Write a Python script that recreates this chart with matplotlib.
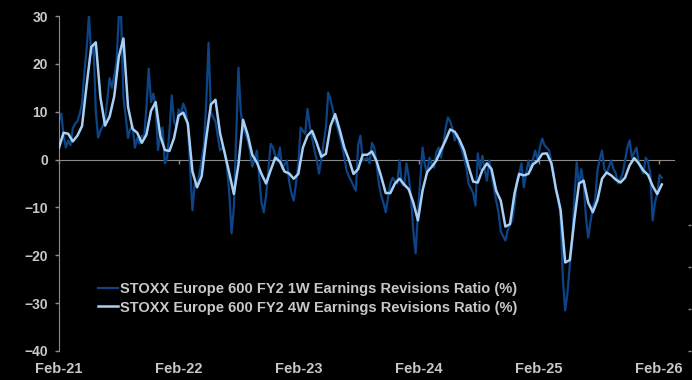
import numpy as np
import pandas as pd
import matplotlib
matplotlib.use("Agg")
import matplotlib.pyplot as plt
import matplotlib.dates as mdates

# ===== data =====
start = "2021-02-01"

# 1W ratio, weekly
ratio_1w = [
    8, 9.6, 5, 2.5, 4, 3, 6.5, 7.5, 8, 9.5,
    11.7, 18, 23, 30, 22, 24, 10, 4.6, 6, 7,
    8.1, 12.5, 17, 15, 17.5, 20.5, 30, 30, 13, 9,
    4.5, 6.5, 7, 2.5, 4.5, 3.3, 5, 4.6, 11, 19,
    12, 13.8, 11, 2, 5, 6.7, -0.8, 0.4, 6, 13.4,
    8, 6.7, 10.5, 9.5, 11.7, 10.5, 7, -2, -10.6, -5,
    -5.8, -3, -0.2, 3, 12, 24.4, 10, 8.8, 8, 5,
    1.9, 2.5, 1.9, -1.5, -7, -15.4, -10, 5, 19.2, 10,
    6.7, 5.5, 4, 1.9, -1.5, 0, 1.9, -3.5, -9, -11,
    -7.5, -2, 3.3, 2.5, 0.8, -0.2, 2.5, -2, -1, -0.2,
    -4.5, -7, -8.6, -5, -1, 6.7, 6, 5.4, 10.6, 7,
    4.6, 2, 0, -2.9, 0, 3.5, 6.7, 14, 12.5, 10.5,
    8.1, 6.7, 5, 3, 0.5, -2.3, -3.5, -4.5, -5.5, -6.5,
    3, 5, -0.2, 0, 0.4, -0.8, 3.5, 2.5, -0.8, -5,
    -7.5, -9, -11, -8, -5, -3.8, -4.5, -5, -0.2, -5,
    -5.5, -0.8, -3.5, -8, -15, -19.6, -11, -4.4, 2.5, -1,
    -2.9, 0.4, -1, -1.7, 1.5, 2.5, 0.4, 3, 6.5, 8.8,
    8, 6.5, 4, 5.4, 3.3, 2.2, 0.4, -1.7, -5, -6,
    -7, -9.6, 1.3, -2, 0.8, -2, -4.4, -0.2, -3, -5.8,
    -8.6, -11, -15, -16, -16.9, -14.8, -13.5, -12.7, -9.5, -4.5,
    -2.9, -0.8, -5.8, -3, -0.2, -2.3, 0, 1.9, -0.2, 2.5,
    4.4, 3, 2.5, 1.9, -0.5, -3, -6.5, -8, -12, -25,
    -31.5, -27.8, -22, -17, -8, -0.6, -5.8, -2, -5, -12,
    -16.3, -13, -10, -8.6, -2.3, 0, 1.9, -2, -2.9, -1.5,
    -0.2, -2, -2.9, -5, -4, -2.9, -0.2, 2.5, 4, 0.4,
    1.5, 2.5, -1, -2, -2.9, 0.4, -0.5, -3, -12.7, -9,
    -7.1, -3.2, -3.8,
]

# 4W ratio, every two weeks
ratio_4w = [
    2.5, 5.6, 5.4, 3.8, 5.0, 7.0, 15.5, 23.5, 24.5, 13,
    7.1, 9, 13.2, 21.5, 25.3, 11, 6.4, 5.6, 3.5, 5.2,
    10.2, 12, 5, 2, 1.8, 4.5, 9.2, 9.8, 7.5, -2.5,
    -5.8, -3.5, 4.5, 11.5, 12.5, 5.5, 1.4, -2.8, -7.2, -1,
    8.3, 5.2, 1.0, -0.6, -3, -5, -2.2, 0.4, -0.4, -2.5,
    -2.9, -4, -3, 2.5, 5, 6, 3.5, 0.6, 1.2, 7,
    9.5, 6.2, 2.5, 0, -3, -2, 1, 1, 1.7, -0.3,
    -3.5, -7, -7, -5, -4, -5.2, -6.2, -9, -12.7, -6.5,
    -2.6, -1.5, -0.2, 2, 4, 6.3, 5.8, 4.2, 2, -1.5,
    -4.6, -4.8, -2.2, -0.8, -2, -6.5, -8.6, -14, -13.5, -7,
    -3, -3.3, -3, -1, -0.3, 1.2, 1.3, -0.8, -6.2, -10.5,
    -21.5, -21, -12.5, -5, -4.4, -9, -11, -8.5, -4, -2.7,
    -3.3, -4.2, -4.8, -3.8, -1.2, 0.3, -0.8, -2.3, -3.2, -5.5,
    -7.2, -5.2,
]

dates_1w = pd.date_range(start, periods=len(ratio_1w), freq="7D")
dates_4w = pd.date_range(start, periods=len(ratio_4w), freq="14D")

label_1w = "STOXX Europe 600 FY2 1W Earnings Revisions Ratio (%)"
label_4w = "STOXX Europe 600 FY2 4W Earnings Revisions Ratio (%)"
year_ticks = pd.date_range("2021-02-01", "2026-02-01", freq="12MS")

# ===== styling =====
dark_blue = "#0d4486"
light_blue = "#a8d0f5"
grey = "#8a8a8a"
txt = "#c8c8c8"
plt.rcParams['font.family'] = ['Liberation Sans', 'DejaVu Sans']
plt.rcParams['font.weight'] = 'bold'

fig = plt.figure(figsize=(6.92, 3.80), dpi=100, facecolor="black")
ax = fig.add_axes([59 / 692, 29 / 380, 615 / 692, 335 / 380], facecolor="black")

ax.plot(dates_1w, ratio_1w, color=dark_blue, lw=1.6, label=label_1w, zorder=2)
ax.plot(dates_4w, ratio_4w, color=light_blue, lw=1.8, label=label_4w, zorder=3)

ax.set_ylim(-40, 30)
ax.set_xlim(pd.Timestamp("2021-02-01"), pd.Timestamp("2026-03-18"))
ax.set_yticks(np.arange(-40, 31, 10))
ax.set_xticks(year_ticks)
ax.xaxis.set_major_formatter(mdates.DateFormatter("%b-%y"))

for s in ["top", "right", "bottom"]:
    ax.spines[s].set_visible(False)
ax.spines["left"].set_color(grey)
ax.tick_params(axis="y", colors=grey, labelcolor=txt, labelsize=10, length=3, width=1, pad=5)
ax.tick_params(axis="x", length=0, labelcolor=txt, labelsize=10.5, pad=8)

# zero line with small year ticks
zero = ax.secondary_xaxis(4 / 7)
zero.set_xticks(year_ticks)
zero.set_xticklabels([])
zero.tick_params(axis="x", direction="in", length=3, color=grey, width=1)
for s in zero.spines.values():
    s.set_color(grey)
zero.set_zorder(0)

leg = ax.legend(loc="center left", bbox_to_anchor=(0.0634, 0.157), frameon=False,
                fontsize=10.5, handlelength=1.4, handletextpad=0.1, labelspacing=0.3,
                borderpad=0, borderaxespad=0)
for t in leg.get_texts():
    t.set_color(txt)

# stray tick marks on the right edge
rax = fig.add_axes([691 / 692, 29 / 380, 0.0005, 126 / 380], facecolor="none")
rax.set_ylim(0, 3)
rax.set_yticks([0, 1, 2, 3])
rax.set_yticklabels([])
rax.set_xticks([])
rax.tick_params(axis="y", length=2.2, color=grey, width=1)
for s in rax.spines.values():
    s.set_visible(False)

fig.savefig("out.png", dpi=100, facecolor="black")
